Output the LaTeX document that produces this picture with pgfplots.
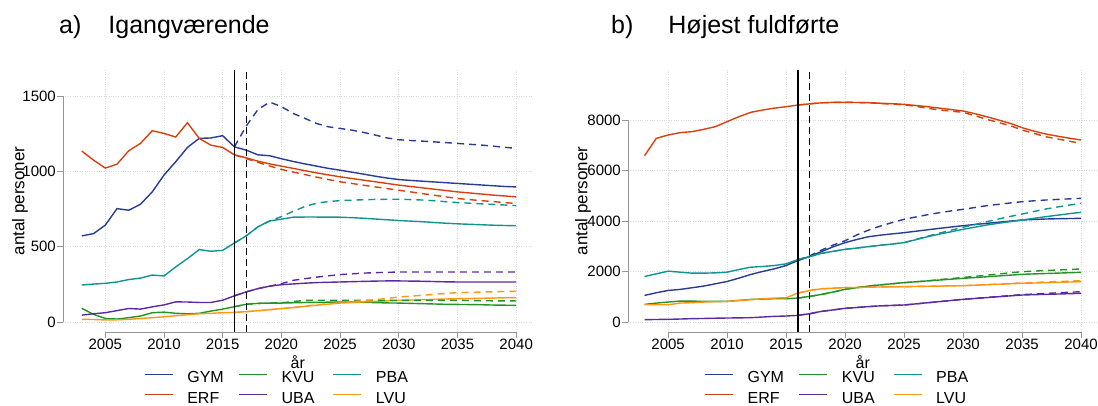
\documentclass[border=0pt]{standalone}
\usepackage{pgfplots}
\pgfplotsset{compat=1.18}
\usepackage{pgfplotstable}
\usepackage{fontspec}
\setmainfont{Liberation Sans}

\definecolor{cGYM}{RGB}{40,60,150}
\definecolor{cERF}{RGB}{214,66,14}
\definecolor{cKVU}{RGB}{36,146,40}
\definecolor{cUBA}{RGB}{92,42,160}
\definecolor{cPBA}{RGB}{16,148,146}
\definecolor{cLVU}{RGB}{255,150,20}
\definecolor{axgray}{RGB}{150,150,150}

% year, solid = base, p = dashed alternative
\pgfplotstableread{
year GYM GYMp ERF ERFp KVU KVUp UBA UBAp PBA PBAp LVU LVUp
2003 572 nan 1135 nan 91 nan 46 nan 246 nan 18 nan
2004 587 nan 1075 nan 51 nan 55 nan 252 nan 17 nan
2005 643 nan 1022 nan 24 nan 62 nan 257 nan 14 nan
2006 753 nan 1048 nan 20 nan 76 nan 266 nan 15 nan
2007 742 nan 1137 nan 29 nan 90 nan 282 nan 18 nan
2008 782 nan 1186 nan 40 nan 86 nan 292 nan 24 nan
2009 864 nan 1270 nan 62 nan 101 nan 312 nan 29 nan
2010 975 nan 1252 nan 66 nan 114 nan 306 nan 35 nan
2011 1064 nan 1228 nan 58 nan 134 nan 366 nan 42 nan
2012 1159 nan 1323 nan 55 nan 133 nan 421 nan 49 nan
2013 1219 nan 1219 nan 58 nan 130 nan 481 nan 55 nan
2014 1222 nan 1174 nan 73 nan 130 nan 470 nan 58 nan
2015 1237 nan 1159 nan 86 nan 145 nan 476 nan 62 nan
2016 1163 1163 1110 1110 102 102 174 174 525 525 64 64
2017 1141 1300 1090 1085 118 118 200 200 572 572 69 69
2018 1110 1410 1068 1060 124 124 222 222 632 632 75 75
2019 1104 1460 1050 1036 126 126 238 238 671 671 82 82
2020 1084 1430 1035 1013 126 128 248 255 683 700 89 89
2021 1066 1385 1020 996 128 136 253 277 696 734 96 97
2022 1050 1352 1005 979 130 144 258 288 697 767 104 106
2023 1035 1318 990 962 131 145 262 298 697 789 112 115
2024 1020 1296 977 946 132 145 264 307 696 800 119 122
2025 1008 1285 964 931 133 144 266 315 696 806 126 129
2026 995 1274 953 920 132 144 268 320 693 809 130 136
2027 982 1259 942 908 131 144 270 325 689 812 134 142
2028 968 1241 931 897 129 144 272 328 684 814 137 148
2029 956 1222 920 886 127 144 273 330 679 815 141 157
2030 946 1210 909 875 126 144 273 332 674 815 144 166
2031 940 1205 900 864 124 144 272 332 670 813 146 172
2032 935 1201 891 853 122 144 271 332 666 810 148 178
2033 930 1196 882 842 120 144 269 332 661 805 151 184
2034 925 1191 873 831 118 144 267 332 656 799 153 190
2035 920 1186 864 820 117 144 266 332 652 793 155 195
2036 915 1180 857 813 116 143 266 332 649 789 156 197
2037 910 1175 850 806 115 142 266 332 646 785 158 199
2038 905 1168 843 800 113 141 266 332 643 781 159 201
2039 900 1160 837 793 112 141 266 332 641 777 161 203
2040 897 1153 831 787 111 140 266 332 639 773 162 204
}\igang

\pgfplotstableread{
year GYM GYMp ERF ERFp KVU KVUp UBA UBAp PBA PBAp LVU LVUp
2003 1053 nan 6587 nan 697 nan 92 nan 1803 nan 684 nan
2004 1158 nan 7273 nan 750 nan 100 nan 1908 nan 684 nan
2005 1250 nan 7405 nan 790 nan 105 nan 2013 nan 684 nan
2006 1290 nan 7500 nan 829 nan 118 nan 1974 nan 750 nan
2007 1355 nan 7537 nan 829 nan 132 nan 1934 nan 763 nan
2008 1421 nan 7630 nan 816 nan 140 nan 1934 nan 790 nan
2009 1513 nan 7735 nan 816 nan 150 nan 1947 nan 803 nan
2010 1605 nan 7933 nan 816 nan 158 nan 1974 nan 816 nan
2011 1737 nan 8131 nan 855 nan 164 nan 2079 nan 849 nan
2012 1882 nan 8303 nan 895 nan 171 nan 2171 nan 882 nan
2013 2000 nan 8395 nan 908 nan 197 nan 2198 nan 921 nan
2014 2105 nan 8470 nan 921 nan 224 nan 2237 nan 947 nan
2015 2237 nan 8527 nan 921 nan 237 nan 2303 nan 960 nan
2016 2434 2434 8593 8593 947 947 263 263 2474 2474 1145 1145
2017 2592 2620 8640 8640 1013 1013 329 329 2592 2592 1250 1250
2018 2790 2850 8680 8680 1092 1092 421 421 2720 2720 1316 1316
2019 2980 3050 8699 8699 1190 1190 480 480 2800 2800 1340 1340
2020 3142 3220 8699 8699 1294 1294 541 541 2878 2878 1360 1360
2021 3270 3450 8693 8693 1360 1360 575 575 2930 2930 1370 1370
2022 3379 3643 8686 8686 1426 1426 610 610 2985 2985 1380 1380
2023 3440 3800 8665 8650 1470 1470 640 640 3040 3040 1388 1388
2024 3490 3940 8645 8630 1515 1515 657 657 3090 3090 1394 1394
2025 3538 4066 8620 8600 1558 1558 673 673 3142 3142 1399 1399
2026 3595 4160 8575 8540 1593 1593 718 718 3260 3270 1407 1407
2027 3652 4250 8527 8461 1628 1628 763 763 3379 3400 1415 1415
2028 3709 4330 8470 8400 1663 1680 808 808 3480 3520 1423 1423
2029 3762 4400 8415 8350 1696 1720 853 853 3575 3640 1431 1431
2030 3815 4462 8356 8303 1729 1765 898 898 3670 3750 1439 1439
2031 3860 4535 8250 8170 1760 1810 932 935 3755 3860 1457 1461
2032 3907 4607 8131 8026 1792 1855 966 972 3841 3973 1476 1483
2033 3952 4660 8000 7900 1824 1900 1000 1010 3910 4080 1494 1505
2034 3996 4715 7867 7775 1856 1950 1035 1048 3975 4180 1513 1527
2035 4039 4765 7696 7603 1888 1993 1069 1085 4039 4277 1531 1549
2036 4060 4800 7560 7470 1904 2015 1082 1108 4105 4375 1544 1567
2037 4079 4831 7445 7339 1920 2040 1095 1131 4171 4475 1557 1585
2038 4090 4855 7360 7250 1936 2060 1108 1155 4230 4555 1570 1603
2039 4098 4877 7280 7160 1952 2080 1121 1178 4290 4630 1584 1620
2040 4105 4897 7207 7075 1967 2099 1135 1201 4343 4699 1597 1637
}\fuldf

\pgfplotsset{
  panel/.style={
    scale only axis, width=469.6pt, height=262pt,
    axis x line*=bottom, axis y line*=left,
    axis line style={draw=none},
    tick align=outside, major tick length=6pt,
    tick style={axgray, line width=0.8pt},
    xtick={2005,2010,...,2040},
    grid=major,
    major grid style={dash pattern=on 0.8pt off 1.6pt, gray!30, line width=0.6pt},
    ticklabel style={font=\fontsize{15}{18}\selectfont, inner sep=1pt},
    /pgf/number format/1000 sep={},
    /pgf/number format/assume math mode=true,
    ylabel={antal personer}, xlabel={år},
    every axis x label/.style={at={(axis description cs:0.5,-0.115)}, anchor=center,
      font=\fontsize{16}{18}\selectfont},
    legend columns=3,
    legend style={draw=none, fill=none, font=\fontsize{16}{19}\selectfont,
      anchor=center, row sep=6pt,
      nodes={inner sep=0pt, text height=11.5pt, text depth=3pt},
      /tikz/every odd column/.append style={column sep=14pt},
      /tikz/every even column/.append style={column sep=11pt}},
    legend cell align=left,
    legend image code/.code={\draw[##1, line width=1.3pt] (0pt,4pt) -- (28pt,4pt);},
    every axis plot/.append style={line width=1.4pt},
  },
  dsh/.style={dash pattern=on 7pt off 5pt, forget plot},
}

\begin{document}
\begin{tikzpicture}
\useasboundingbox (0,0) rectangle (1098pt,405pt);

\node[anchor=base west, font=\fontsize{25}{30}\selectfont, inner sep=0pt]
  at (59pt,371pt) {a)\hspace{27pt}Igangværende};
\node[anchor=base west, font=\fontsize{25}{30}\selectfont, inner sep=0pt]
  at (611pt,371pt) {b)\hspace{35pt}Højest fuldførte};

% panel a
\begin{axis}[panel, at={(63pt,73pt)}, anchor=south west,
  xmin=2001.4, xmax=2041.4, ymin=-66, ymax=1673,
  ytick={0,500,1000,1500},
  every axis y label/.style={at={(axis description cs:-0.0916,0.5)}, rotate=90,
    anchor=center, font=\fontsize{17}{20}\selectfont},
  legend style={at={(axis description cs:0.462,-0.216)}}]
\addplot[cGYM] table[x=year, y=GYM] {\igang}; \addlegendentry{\makebox[40pt][l]{GYM}}
\addplot[cKVU] table[x=year, y=KVU] {\igang}; \addlegendentry{\makebox[40pt][l]{KVU}}
\addplot[cPBA] table[x=year, y=PBA] {\igang}; \addlegendentry{\makebox[40pt][l]{PBA}}
\addplot[cERF] table[x=year, y=ERF] {\igang}; \addlegendentry{\makebox[40pt][l]{ERF}}
\addplot[cUBA] table[x=year, y=UBA] {\igang}; \addlegendentry{\makebox[40pt][l]{UBA}}
\addplot[cLVU] table[x=year, y=LVU] {\igang}; \addlegendentry{\makebox[40pt][l]{LVU}}
\addplot[cGYM, dsh] table[x=year, y=GYMp] {\igang};
\addplot[cKVU, dsh] table[x=year, y=KVUp] {\igang};
\addplot[cPBA, dsh] table[x=year, y=PBAp] {\igang};
\addplot[cERF, dsh] table[x=year, y=ERFp] {\igang};
\addplot[cUBA, dsh] table[x=year, y=UBAp] {\igang};
\addplot[cLVU, dsh] table[x=year, y=LVUp] {\igang};
\addplot[black, line width=1.2pt, forget plot] coordinates {(2016,-66) (2016,1673)};
\addplot[black, line width=1.2pt, dash pattern=on 7pt off 4pt, forget plot] coordinates {(2017,-66) (2017,1673)};
\draw[axgray, line width=0.8pt] (axis cs:2005,-66) -- (axis cs:2040,-66);
\draw[axgray, line width=0.8pt] (axis cs:2001.4,0) -- (axis cs:2001.4,1500);
\end{axis}

% panel b
\begin{axis}[panel, at={(628pt,73pt)}, anchor=south west,
  xmin=2001.6, xmax=2041.4, ymin=-396, ymax=9980,
  ytick={0,2000,4000,6000,8000},
  every axis y label/.style={at={(axis description cs:-0.096,0.5)}, rotate=90,
    anchor=center, font=\fontsize{17}{20}\selectfont},
  legend style={at={(axis description cs:0.452,-0.216)}}]
\addplot[cGYM] table[x=year, y=GYM] {\fuldf}; \addlegendentry{\makebox[40pt][l]{GYM}}
\addplot[cKVU] table[x=year, y=KVU] {\fuldf}; \addlegendentry{\makebox[40pt][l]{KVU}}
\addplot[cPBA] table[x=year, y=PBA] {\fuldf}; \addlegendentry{\makebox[40pt][l]{PBA}}
\addplot[cERF] table[x=year, y=ERF] {\fuldf}; \addlegendentry{\makebox[40pt][l]{ERF}}
\addplot[cUBA] table[x=year, y=UBA] {\fuldf}; \addlegendentry{\makebox[40pt][l]{UBA}}
\addplot[cLVU] table[x=year, y=LVU] {\fuldf}; \addlegendentry{\makebox[40pt][l]{LVU}}
\addplot[cGYM, dsh] table[x=year, y=GYMp] {\fuldf};
\addplot[cKVU, dsh] table[x=year, y=KVUp] {\fuldf};
\addplot[cPBA, dsh] table[x=year, y=PBAp] {\fuldf};
\addplot[cERF, dsh] table[x=year, y=ERFp] {\fuldf};
\addplot[cUBA, dsh] table[x=year, y=UBAp] {\fuldf};
\addplot[cLVU, dsh] table[x=year, y=LVUp] {\fuldf};
\addplot[black, line width=1.2pt, forget plot] coordinates {(2016,-396) (2016,9980)};
\addplot[black, line width=1.2pt, dash pattern=on 7pt off 4pt, forget plot] coordinates {(2017,-396) (2017,9980)};
\draw[axgray, line width=0.8pt] (axis cs:2005,-396) -- (axis cs:2040,-396);
\draw[axgray, line width=0.8pt] (axis cs:2001.6,0) -- (axis cs:2001.6,8000);
\end{axis}
\end{tikzpicture}
\end{document}
